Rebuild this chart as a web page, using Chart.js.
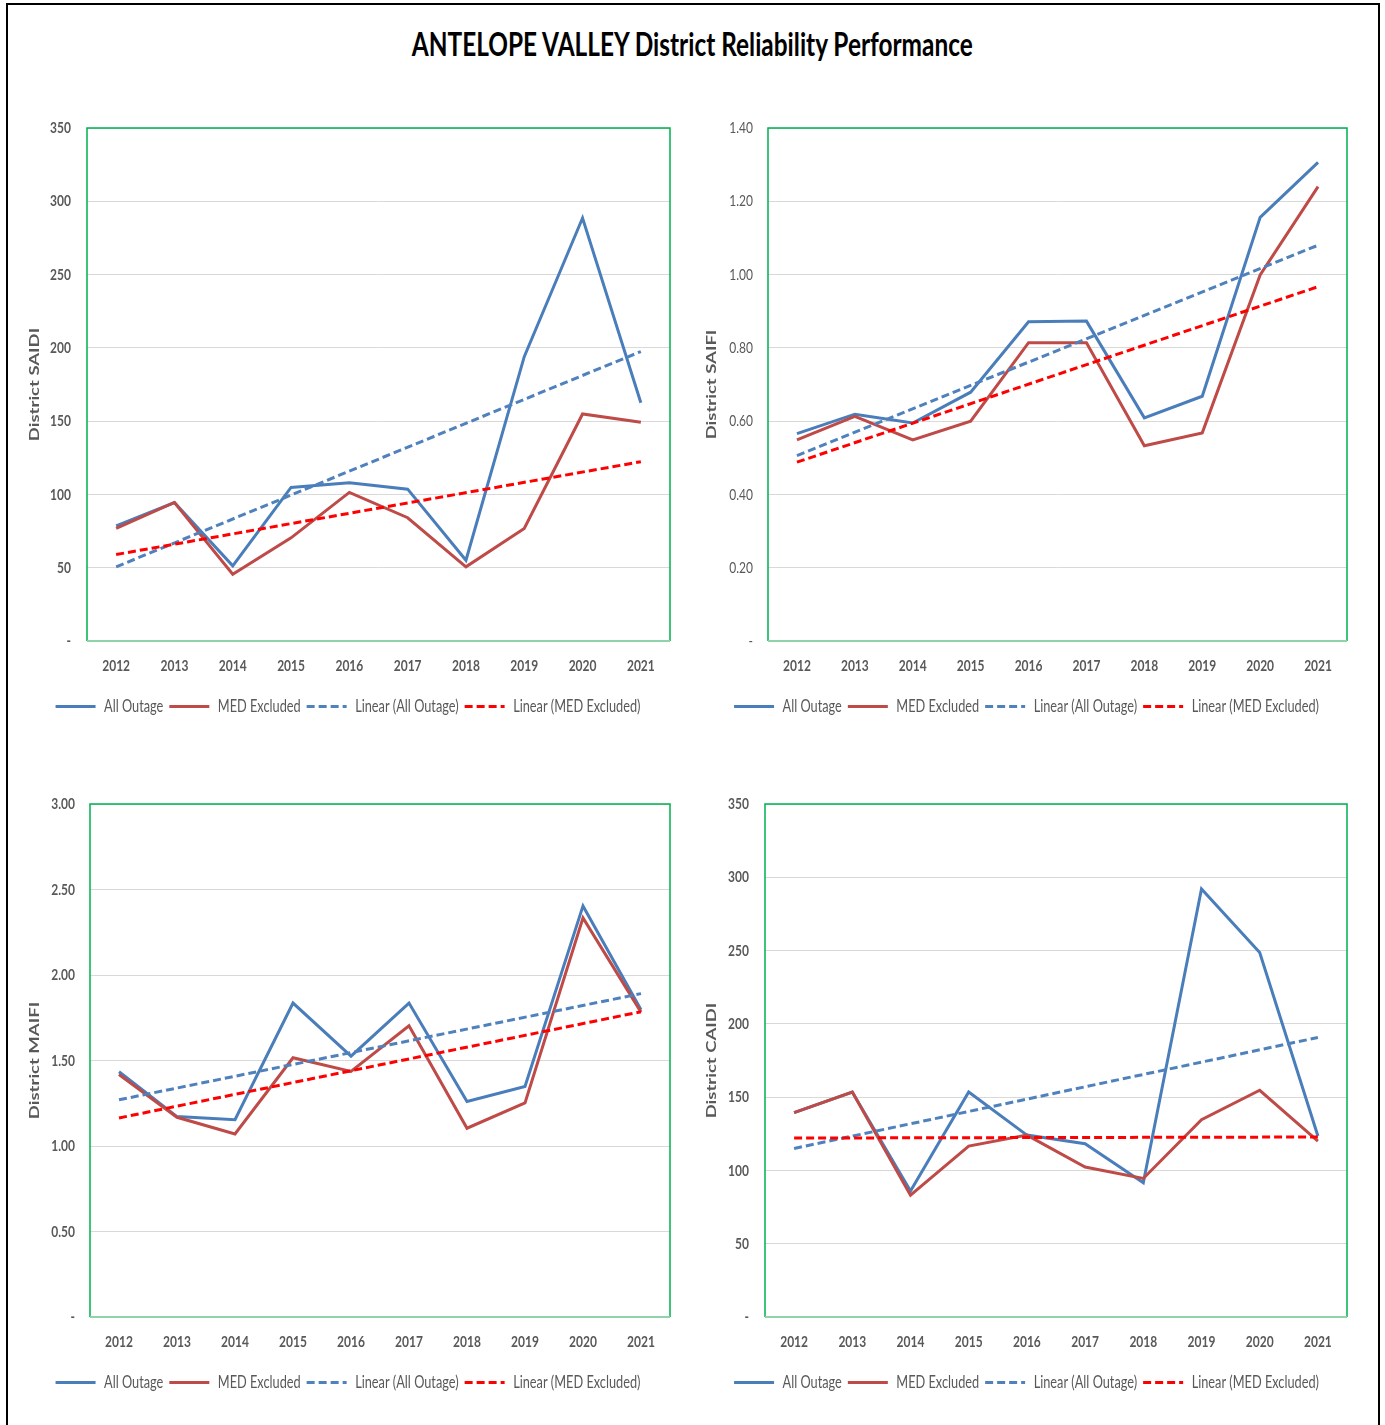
<!DOCTYPE html>
<html><head><meta charset="utf-8">
<script src="https://cdn.jsdelivr.net/npm/chart.js@4.4.1/dist/chart.umd.min.js"></script>
<style>
html,body{margin:0;padding:0;background:#fff;width:1385px;height:1425px;overflow:hidden;}
#frame{position:absolute;left:6px;top:3px;width:1374px;height:1450px;border:2px solid #000;box-sizing:border-box;}
#title{position:absolute;left:0;top:23px;width:1385px;text-align:center;}
#title span{display:inline-block;font-family:Lato,'Liberation Sans',sans-serif;font-weight:bold;font-size:33px;color:#000;white-space:nowrap;transform-origin:50% 50%;}
canvas{position:absolute;}
</style></head><body>
<div id="frame"></div>
<div id="title"><span id="tspan">ANTELOPE VALLEY District Reliability Performance</span></div>
<canvas id="c1"></canvas>
<canvas id="c2"></canvas>
<canvas id="c3"></canvas>
<canvas id="c4"></canvas>
<script>
// ---- data ----
const years = ['2012','2013','2014','2015','2016','2017','2018','2019','2020','2021'];

const saidiAll = [78.6, 94.5, 51.3, 104.8, 108, 103.6, 55.1, 194, 288.6, 162.6];
const saidiMed = [76.8, 94.5, 45.6, 70.4, 101.4, 84.1, 50.6, 76.8, 154.9, 149.2];
const saidiTrendAll = [50.6, 197.5];
const saidiTrendMed = [59, 122.3];

const saifiAll = [0.566, 0.619, 0.595, 0.679, 0.871, 0.873, 0.609, 0.668, 1.156, 1.306];
const saifiMed = [0.549, 0.613, 0.549, 0.600, 0.814, 0.814, 0.533, 0.568, 0.999, 1.240];
const saifiTrendAll = [0.506, 1.080];
const saifiTrendMed = [0.488, 0.967];

const maifiAll = [1.434, 1.172, 1.154, 1.836, 1.525, 1.836, 1.260, 1.348, 2.404, 1.797];
const maifiMed = [1.418, 1.168, 1.070, 1.516, 1.436, 1.703, 1.104, 1.252, 2.334, 1.783];
const maifiTrendAll = [1.270, 1.891];
const maifiTrendMed = [1.164, 1.785];

const caidiAll = [139.4, 153.5, 85.9, 153.5, 124.1, 118.2, 91.6, 292, 248.7, 123.5];
const caidiMed = [139.4, 153.5, 83.1, 116.6, 124.1, 102.3, 94.5, 134.6, 154.7, 120];
const caidiTrendAll = [115, 190.7];
const caidiTrendMed = [122.1, 122.8];

const seriesNames = ['All Outage', 'MED Excluded', 'Linear (All Outage)', 'Linear (MED Excluded)'];

// ---- styling ----
const FONT = "Lato,'Liberation Sans',sans-serif";
const TXT = '#595959';
const SQUASH = 0.75;

// title: narrow the heading horizontally like the reference lettering
(function () {
  const sp = document.getElementById('tspan');
  const w = sp.getBoundingClientRect().width;
  sp.style.transform = 'scaleX(' + (561 / w) + ')';
})();

// condensed lettering for the canvas texts (text stays real text)
function condense(ctx, s) {
  const fill = ctx.fillText.bind(ctx);
  const measure = ctx.measureText.bind(ctx);
  ctx.fillText = function (t, x, y, mw) {
    const m = ctx.getTransform();
    ctx.save();
    ctx.translate(x, y);
    if (Math.abs(m.b) > 1e-6) ctx.scale(1, s); else ctx.scale(s, 1);
    if (mw !== undefined) fill(t, 0, 0, mw / s); else fill(t, 0, 0);
    ctx.restore();
  };
  ctx.measureText = function (t) {
    const r = measure(t);
    return {
      width: r.width * s,
      actualBoundingBoxAscent: r.actualBoundingBoxAscent,
      actualBoundingBoxDescent: r.actualBoundingBoxDescent,
      actualBoundingBoxLeft: r.actualBoundingBoxLeft * s,
      actualBoundingBoxRight: r.actualBoundingBoxRight * s
    };
  };
}

const frameBorder = {
  id: 'frameBorder',
  afterDatasetsDraw(chart) {
    const {ctx, chartArea: a} = chart;
    ctx.save();
    ctx.strokeStyle = '#00b050';
    ctx.lineWidth = 1.5;
    ctx.beginPath();
    ctx.moveTo(a.left, a.bottom); ctx.lineTo(a.left, a.top); ctx.lineTo(a.right, a.top); ctx.lineTo(a.right, a.bottom);
    ctx.stroke();
    ctx.strokeStyle = '#8fd4a8';
    ctx.lineWidth = 2;
    ctx.beginPath();
    ctx.moveTo(a.left, a.bottom); ctx.lineTo(a.right, a.bottom);
    ctx.stroke();
    ctx.restore();
  }
};

function trend(pair) {
  return [{x: years[0], y: pair[0]}, {x: years[years.length - 1], y: pair[1]}];
}

function makeChart(id, c) {
  const TOP = 26, PADL = 14, xH = 51, legH = 34, BELOW = 100;
  const cy = c.plot[1] - TOP;
  const ch = c.plot[3] + BELOW - cy;
  const cv = document.getElementById(id);
  cv.width = c.cw; cv.height = ch;
  cv.style.left = c.cx + 'px'; cv.style.top = cy + 'px';
  cv.style.width = c.cw + 'px'; cv.style.height = ch + 'px';
  const ctx = cv.getContext('2d');
  condense(ctx, SQUASH);
  const pad = {top: TOP, right: c.cx + c.cw - c.plot[2], left: PADL, bottom: BELOW - xH - legH};
  const titleSize = 18.5;
  const titlePad = c.titleX - c.cx - PADL - titleSize / 2;
  new Chart(ctx, {
    type: 'line',
    data: {
      labels: years,
      datasets: [
        {label: seriesNames[0], data: c.all, borderColor: '#4a7ebb', borderWidth: 3, pointRadius: 0, tension: 0, order: 3},
        {label: seriesNames[1], data: c.med, borderColor: '#be4b48', borderWidth: 3, pointRadius: 0, tension: 0, order: 2},
        {label: seriesNames[2], data: trend(c.tAll), borderColor: '#4f81bd', borderWidth: 3, borderDash: [8, 4], pointRadius: 0, order: 1},
        {label: seriesNames[3], data: trend(c.tMed), borderColor: '#ff0000', borderWidth: 3, borderDash: [8, 4], pointRadius: 0, order: 0}
      ]
    },
    options: {
      responsive: false,
      animation: false,
      devicePixelRatio: 1,
      layout: {padding: pad},
      plugins: {
        tooltip: {enabled: false},
        legend: {
          position: 'bottom',
          labels: {
            usePointStyle: true, pointStyleWidth: 40,
            font: {family: FONT, size: 17}, color: TXT, padding: 6,
            generateLabels(chart) {
              return chart.data.datasets.map((ds, i) => ({
                text: ds.label, fillStyle: ds.borderColor, strokeStyle: ds.borderColor,
                lineWidth: ds.borderWidth, lineDash: ds.borderDash || [], lineCap: 'butt',
                pointStyle: 'line', hidden: false, datasetIndex: i, fontColor: TXT
              }));
            }
          }
        }
      },
      scales: {
        x: {
          offset: true,
          grid: {display: false, drawTicks: false, offset: true},
          border: {display: false},
          ticks: {font: {family: FONT, size: 16, weight: 'bold'}, color: TXT, padding: 15, maxRotation: 0, autoSkip: false},
          afterFit(s) { s.height = xH; }
        },
        y: {
          min: 0, max: c.max,
          grid: {color: '#d9d9d9', lineWidth: 1, drawTicks: false},
          border: {display: false},
          ticks: {
            stepSize: c.step,
            font: {family: FONT, size: 16, weight: c.boldY ? 'bold' : 'normal'},
            color: TXT, padding: c.tickPad,
            callback: (v) => (Math.abs(v) < 1e-9 ? '-' : v.toFixed(c.dec))
          },
          title: {
            display: true, text: c.title, color: TXT,
            font: {family: FONT, size: titleSize, weight: 'bold', lineHeight: 1},
            padding: {top: titlePad, bottom: 0}
          },
          afterFit(s) { s.width = c.plot[0] - c.cx - PADL; }
        }
      }
    },
    plugins: [frameBorder]
  });
}

makeChart('c1', {cx: 12, cw: 680, plot: [87, 128, 670, 640], titleX: 35,
  all: saidiAll, med: saidiMed, tAll: saidiTrendAll, tMed: saidiTrendMed,
  max: 350, step: 50, dec: 0, boldY: true, tickPad: 16, title: 'District SAIDI'});
makeChart('c2', {cx: 692, cw: 680, plot: [768, 128, 1347, 640], titleX: 712,
  all: saifiAll, med: saifiMed, tAll: saifiTrendAll, tMed: saifiTrendMed,
  max: 1.4, step: 0.2, dec: 2, boldY: false, tickPad: 15, title: 'District SAIFI'});
makeChart('c3', {cx: 12, cw: 680, plot: [90, 804, 670, 1316], titleX: 35,
  all: maifiAll, med: maifiMed, tAll: maifiTrendAll, tMed: maifiTrendMed,
  max: 3, step: 0.5, dec: 2, boldY: true, tickPad: 15, title: 'District MAIFI'});
makeChart('c4', {cx: 692, cw: 680, plot: [765, 804, 1347, 1316], titleX: 712,
  all: caidiAll, med: caidiMed, tAll: caidiTrendAll, tMed: caidiTrendMed,
  max: 350, step: 50, dec: 0, boldY: true, tickPad: 16, title: 'District CAIDI'});
</script>
</body></html>
